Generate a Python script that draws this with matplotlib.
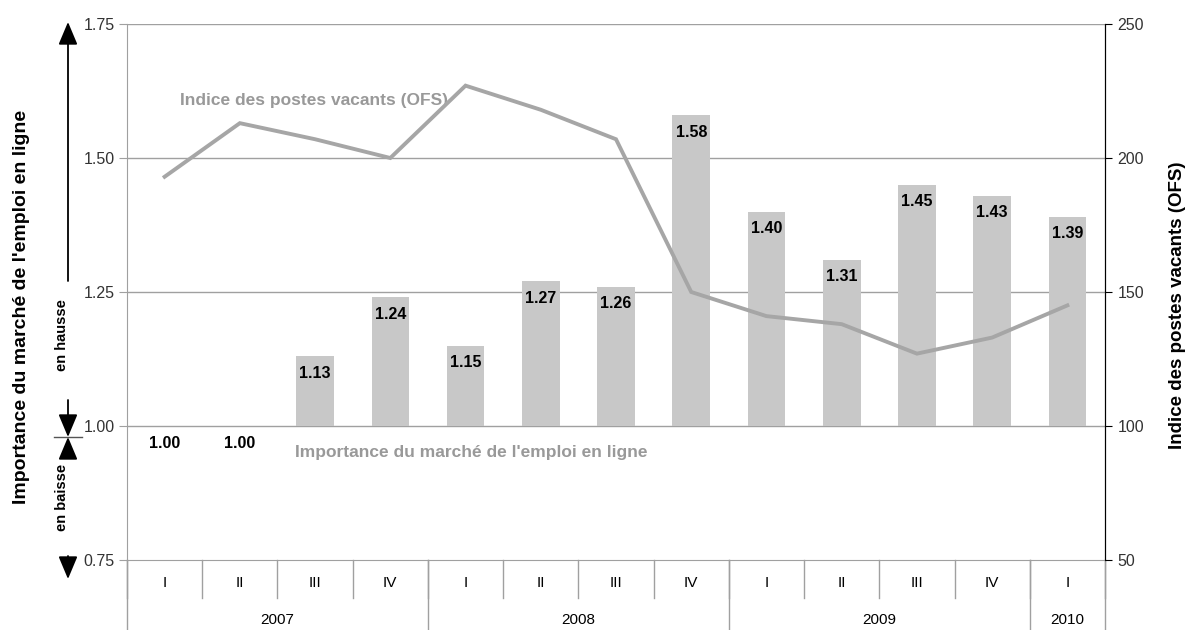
"""
Importance du marché de l'emploi en ligne vs indice des postes vacants (OFS)
"""
import numpy as np
import matplotlib
matplotlib.use("Agg")
import matplotlib.pyplot as plt
from matplotlib.transforms import blended_transform_factory

QUARTERS = ["I", "II", "III", "IV", "I", "II", "III", "IV", "I", "II", "III", "IV", "I"]
YEARS = ["2007", "2008", "2009", "2010"]
YEAR_SPANS = [4, 4, 4, 1]
MARKET = [1.00, 1.00, 1.13, 1.24, 1.15, 1.27, 1.26, 1.58, 1.40, 1.31, 1.45, 1.43, 1.39]
VACANCIES = [193, 213, 207, 200, 227, 218, 207, 150, 141, 138, 127, 133, 145]

NARROW = ["Liberation Sans Narrow", "Liberation Sans", "DejaVu Sans"]
plt.rcParams["font.family"] = ["Liberation Sans", "DejaVu Sans"]

BAR_C = "#c8c8c8"
LINE_C = "#a6a6a6"
GRID_C = "#a0a0a0"

fig = plt.figure(figsize=(11.91, 6.30), dpi=100)
ax = fig.add_axes([127 / 1191, 70 / 630, 978 / 1191, 536 / 630])
ax2 = ax.twinx()

x = np.arange(len(QUARTERS))
base = 1.0
ax.bar(x, np.array(MARKET) - base, bottom=base, width=0.5, color=BAR_C, zorder=2)
for xi, v in zip(x, MARKET):
    ax.annotate(f"{v:.2f}", (xi, v), xytext=(0, -17), textcoords="offset pixels",
                ha="center", va="center", fontsize=11.5, fontweight="bold",
                family=NARROW, zorder=5)

ax2.plot(x, VACANCIES, color=LINE_C, lw=2.8, solid_joinstyle="miter")

ax.set_xlim(-0.5, len(QUARTERS) - 0.5)
ax.set_ylim(0.75, 1.75)
ax.set_yticks([0.75, 1.00, 1.25, 1.50, 1.75])
ax.set_yticklabels([f"{t:.2f}" for t in ax.get_yticks()])
ax2.set_ylim(50, 250)
ax2.set_yticks([50, 100, 150, 200, 250])

for t in [1.00, 1.25, 1.50, 1.75]:
    ax.axhline(t, color=GRID_C, lw=1, zorder=1)

ax.set_xticks([])
for s in ["top"]:
    ax.spines[s].set_visible(False)
    ax2.spines[s].set_visible(False)
ax.spines["left"].set_color(GRID_C)
ax.spines["bottom"].set_color(GRID_C)
ax2.spines["left"].set_visible(False)
ax2.spines["bottom"].set_visible(False)
ax2.spines["right"].set_color("black")

ax.tick_params(axis="y", length=6, color=GRID_C, labelsize=11.5, labelcolor="#333333", pad=3)
ax2.tick_params(axis="y", length=5, color="black", labelsize=11.5, labelcolor="#333333", pad=4)

# category axis: quarters and years
trans = blended_transform_factory(ax.transData, ax.transAxes)
for xi, q in zip(x, QUARTERS):
    ax.text(xi, -0.042, q, transform=trans, ha="center", va="center",
            fontsize=11, family=NARROW)
for b in np.arange(-0.5, len(QUARTERS), 1.0):
    ax.plot([b, b], [0, -0.07], transform=trans, color=GRID_C, lw=1, clip_on=False)
start = -0.5
bounds = [start]
for yr, span in zip(YEARS, YEAR_SPANS):
    ax.text(start + span / 2, -0.112, yr, transform=trans, ha="center", va="center",
            fontsize=11, family=NARROW)
    start += span
    bounds.append(start)
for b in bounds:
    ax.plot([b, b], [0, -0.131], transform=trans, color=GRID_C, lw=1, clip_on=False)

# series names inside the plot
ax.text(180 / 1191, 530 / 630, "Indice des postes vacants (OFS)", transform=fig.transFigure,
        color="#999999", fontsize=12.5, fontweight="bold", family=NARROW, va="center")
ax.text(295 / 1191, 178 / 630, "Importance du marché de l'emploi en ligne", transform=fig.transFigure,
        color="#999999", fontsize=12.5, fontweight="bold", family=NARROW, va="center")

# axis titles
fig.text(22 / 1191, 323 / 630, "Importance du marché de l'emploi en ligne", rotation=90,
         ha="center", va="center", fontsize=14, fontweight="bold", family=NARROW)
fig.text(1178 / 1191, 325 / 630, "Indice des postes vacants (OFS)", rotation=90,
         ha="center", va="center", fontsize=13.5, fontweight="bold", family=NARROW)

# up / down arrows on the left
AX_X = 68
arrow = dict(arrowstyle="-|>,head_length=1.0,head_width=0.42", color="black",
             lw=1.3, mutation_scale=14, shrinkA=0, shrinkB=0)
for y0, y1 in [(281, 22), (400, 437), (458, 437), (556, 579)]:
    ax.annotate("", xy=(AX_X, 630 - y1), xytext=(AX_X, 630 - y0), xycoords="figure pixels",
                textcoords="figure pixels", arrowprops=arrow, annotation_clip=False)
fig.add_artist(plt.Line2D([54 / 1191, 82 / 1191], [193 / 630, 193 / 630],
                          transform=fig.transFigure, color="#555555", lw=1))
fig.text(62 / 1191, 295 / 630, "en hausse", rotation=90, ha="center", va="center",
         fontsize=10.5, fontweight="bold", family=NARROW)
fig.text(62 / 1191, 133 / 630, "en baisse", rotation=90, ha="center", va="center",
         fontsize=10.5, fontweight="bold", family=NARROW)

fig.savefig("out.png", dpi=100)
